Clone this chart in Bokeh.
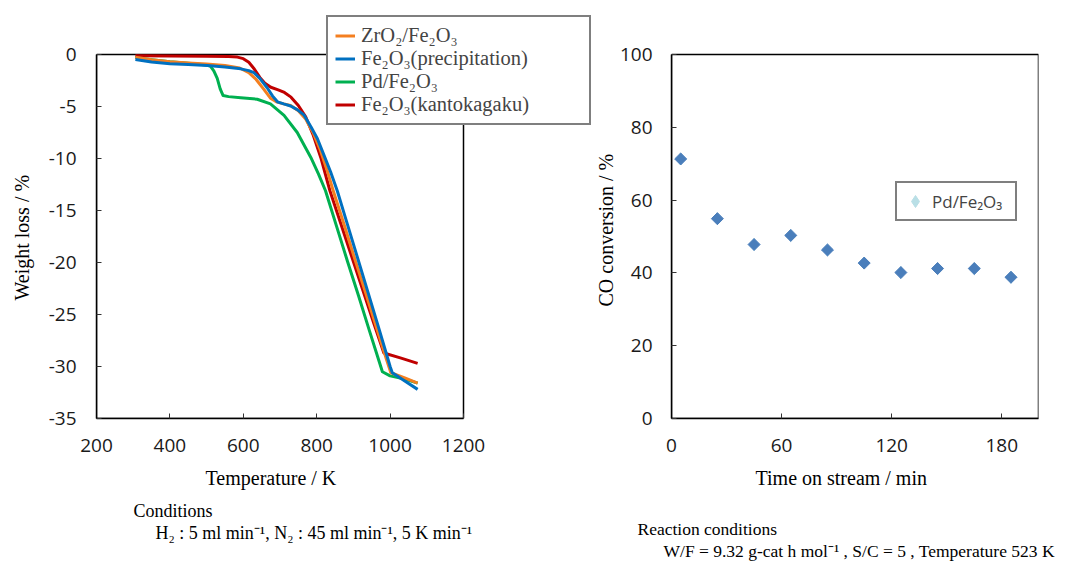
import numpy as np
from bokeh.plotting import figure
from bokeh.models import Legend, LegendItem, Title, FixedTicker, Range1d
from bokeh.layouts import row
from bokeh.embed import file_html
from bokeh.resources import INLINE

# ---------------- Left chart: TG curves (Temperature / K vs Weight loss / %) ----------------
zr_T = [306, 350, 400, 450, 500, 550, 590, 615, 635, 655, 674, 690, 710, 729, 750, 770, 790, 810, 828,
        845, 875, 905, 935, 965, 990, 1002, 1040, 1075]
zr_w = [-0.26, -0.5, -0.7, -0.82, -0.92, -1.05, -1.3, -1.75, -2.4, -3.3, -4.2, -4.55, -4.75, -4.9, -5.4,
        -6.2, -7.5, -9.2, -11.1, -13.1, -16.4, -19.8, -23.1, -26.5, -29.3, -30.6, -31.1, -31.6]

pr_T = [306, 350, 400, 450, 502, 550, 593, 615, 629, 645, 665, 680, 693, 710, 729, 747, 765, 785, 802,
        820, 838, 856, 880, 910, 940, 970, 990, 1000, 1006, 1040, 1075]
pr_w = [-0.48, -0.72, -0.88, -0.97, -1.06, -1.2, -1.38, -1.55, -1.75, -2.3, -3.2, -4.0, -4.55, -4.75,
        -4.95, -5.3, -5.8, -7.0, -8.1, -9.7, -11.3, -13.1, -15.9, -19.4, -22.9, -26.4, -28.8, -30.0,
        -30.6, -31.4, -32.2]

pd_T = [306, 350, 400, 450, 500, 511, 520, 529, 537, 545, 560, 593, 638, 674, 711, 747, 784, 805,
        824, 854, 884, 914, 944, 970, 979, 1000, 1040, 1075]
pd_w = [-0.3, -0.5, -0.7, -0.85, -1.0, -1.15, -1.6, -2.3, -3.3, -3.95, -4.05, -4.15, -4.3, -4.75,
        -5.85, -7.5, -9.9, -11.5, -13.1, -16.5, -19.9, -23.2, -26.6, -29.5, -30.5, -30.9, -31.2, -31.6]

kk_T = [306, 400, 500, 560, 584, 600, 615, 630, 645, 660, 675, 695, 712, 730, 750, 770, 790, 812,
        836, 866, 896, 926, 956, 983, 1030, 1075]
kk_w = [-0.13, -0.15, -0.17, -0.2, -0.25, -0.4, -0.75, -1.4, -2.2, -2.8, -3.15, -3.4, -3.65, -4.1,
        -4.9, -6.0, -7.7, -10.0, -13.1, -16.3, -19.5, -22.7, -25.9, -28.7, -29.2, -29.7]

series_names = ["ZrO₂/Fe₂O₃", "Fe₂O₃(precipitation)", "Pd/Fe₂O₃", "Fe₂O₃(kantokagaku)"]
series_colors = ["#F47F20", "#0070C0", "#00B050", "#C00000"]

temp_ticks = [200, 400, 600, 800, 1000, 1200]
loss_ticks = [0, -5, -10, -15, -20, -25, -30, -35]

# ---------------- Right chart: CO conversion vs time on stream ----------------
time_min = [5, 25, 45, 65, 85, 105, 125, 145, 165, 185]
co_conv = [71.3, 54.9, 47.8, 50.3, 46.3, 42.7, 40.1, 41.2, 41.2, 38.8]
time_ticks = [0, 60, 120, 180]
time_max = 200
conv_ticks = [0, 20, 40, 60, 80, 100]

SERIF = "Liberation Serif"
SANS = "Open Sans"

# ---------------- layout constants (pixels) ----------------
H = 562
LEFT_W = 591
RIGHT_W = 1073 - LEFT_W
PLOT_W = 367          # visible plot-area width
PLOT_H = 364          # visible plot-area height
TOP = 54              # top of the visible plot areas
EXT_TOP = 10          # frames extend above the plot area (room for the legend)
BOTTOM = H - TOP - PLOT_H
L_LEFT = 96
R_LEFT = 671 - LEFT_W


def style(p, ytick_standoff):
    p.xgrid.visible = False
    p.ygrid.visible = False
    p.background_fill_color = "white"
    p.border_fill_color = "white"
    p.outline_line_color = None
    for ax in (p.xaxis[0], p.yaxis[0]):
        ax.axis_line_color = "black"
        ax.axis_line_width = 1.5
        ax.major_tick_in = 5
        ax.major_tick_out = 0
        ax.major_tick_line_color = "#333333"
        ax.major_tick_line_width = 1
        ax.minor_tick_line_color = None
        ax.major_label_text_font = SANS
        ax.major_label_text_font_size = "19px"
        ax.major_label_text_color = "#1a1a1a"
    p.xaxis[0].major_label_standoff = 20
    p.yaxis[0].major_label_standoff = ytick_standoff


def add_title(p, side, text, offset, standoff, size="18px", font=SERIF):
    p.add_layout(Title(text=text, align="left", offset=offset, standoff=standoff,
                       text_font=font, text_font_size=size, text_font_style="normal",
                       text_color="black"), side)


def make_fig(width, xr, yr, left, right):
    return figure(width=width, height=H, output_backend="svg", toolbar_location=None,
                  x_range=xr, y_range=yr, min_border_left=left, min_border_right=right,
                  min_border_top=EXT_TOP, min_border_bottom=BOTTOM)


y_ext = (TOP - EXT_TOP) / PLOT_H   # fraction of y span added above the plot area

# ---- left figure: frame extended right/up so the legend can overlap the plot border ----
x_span = temp_ticks[-1] - temp_ticks[0]
x_hi = temp_ticks[0] + x_span * (LEFT_W - L_LEFT) / PLOT_W
y_span = loss_ticks[0] - loss_ticks[-1]
p1 = make_fig(LEFT_W, Range1d(temp_ticks[0], x_hi),
              Range1d(loss_ticks[-1], loss_ticks[0] + y_span * y_ext), L_LEFT, 0)
style(p1, 20)
p1.xaxis[0].ticker = FixedTicker(ticks=temp_ticks)
p1.yaxis[0].ticker = FixedTicker(ticks=loss_ticks)
p1.yaxis[0].major_label_overrides = {t: str(t) for t in loss_ticks}
p1.xaxis[0].bounds = (temp_ticks[0], temp_ticks[-1])
p1.yaxis[0].bounds = (loss_ticks[-1], loss_ticks[0])
p1.quad(left=[temp_ticks[0]], right=[temp_ticks[-1]], bottom=[loss_ticks[-1]], top=[loss_ticks[0]],
        fill_color=None, line_color="black", line_width=1.5)

data = [(zr_T, zr_w), (pr_T, pr_w), (pd_T, pd_w), (kk_T, kk_w)]
rends = {}
for idx in [3, 2, 0, 1]:
    T, w = data[idx]
    rends[idx] = p1.line(T, w, line_color=series_colors[idx], line_width=3, line_join="round")

leg1 = Legend(items=[LegendItem(label=series_names[i], renderers=[rends[i]]) for i in range(4)],
              location=(230, 293), label_text_font=SERIF, label_text_font_size="20.5px",
              glyph_width=20, glyph_height=23, label_height=23, label_width=221, label_standoff=6,
              padding=7, spacing=0, margin=0, border_line_color="black", border_line_width=2,
              background_fill_color="white", background_fill_alpha=1.0)
p1.add_layout(leg1)

# axis titles and notes
add_title(p1, "left", " ", 0, 10, "1px")
add_title(p1, "left", "Weight loss / %", 118, 0, "20px")
add_title(p1, "below", "Temperature / K", 109, 20, "20px")
add_title(p1, "below", "Conditions", 37, 0)
add_title(p1, "below", "H₂ : 5 ml min⁻¹, N₂ : 45 ml min⁻¹, 5 K min⁻¹", 59, 0)

# ---- right figure ----
c_span = conv_ticks[-1] - conv_ticks[0]
p2 = make_fig(RIGHT_W, Range1d(time_ticks[0], time_max),
              Range1d(conv_ticks[0], conv_ticks[-1] + c_span * y_ext),
              R_LEFT, RIGHT_W - R_LEFT - PLOT_W)
style(p2, 19)
p2.xaxis[0].ticker = FixedTicker(ticks=time_ticks)
p2.yaxis[0].ticker = FixedTicker(ticks=conv_ticks)
p2.yaxis[0].bounds = (conv_ticks[0], conv_ticks[-1])
p2.quad(left=[time_ticks[0]], right=[time_max], bottom=[conv_ticks[0]], top=[conv_ticks[-1]],
        fill_color=None, line_color="black", line_width=1.5)

# legend swatch renderer (light colour) sits hidden beneath the data markers
leg_r = p2.scatter(time_min, co_conv, marker="diamond", size=12,
                   fill_color="#B9DFE6", line_color="#B9DFE6")
p2.scatter(time_min, co_conv, marker="square", angle=np.pi / 4, size=8.5,
           fill_color="#4A7EBB", line_color="#4A7EBB")
leg2 = Legend(items=[LegendItem(label="Pd/Fe₂O₃", renderers=[leg_r])],
              location=(224, 197), label_text_font=SANS, label_text_font_size="17px",
              glyph_width=30, glyph_height=30, label_height=30, label_width=80, label_standoff=2,
              padding=3, spacing=0, margin=0, border_line_color="black", border_line_width=2,
              background_fill_color="white", background_fill_alpha=1.0)
p2.add_layout(leg2)

add_title(p2, "left", "CO conversion / %", 112, 0, "20px")
add_title(p2, "below", "Time on stream / min", 84, 21, "20px")
add_title(p2, "below", " ", 0, 14, "1px")
add_title(p2, "below", "Reaction conditions", -34, 0, "17.5px")
add_title(p2, "below", "W/F = 9.32 g-cat h mol⁻¹ , S/C = 5 , Temperature 523 K", -8, 0, "17.5px")

layout = row(p1, p2)
open("out.html", "w").write(file_html(layout, INLINE))
